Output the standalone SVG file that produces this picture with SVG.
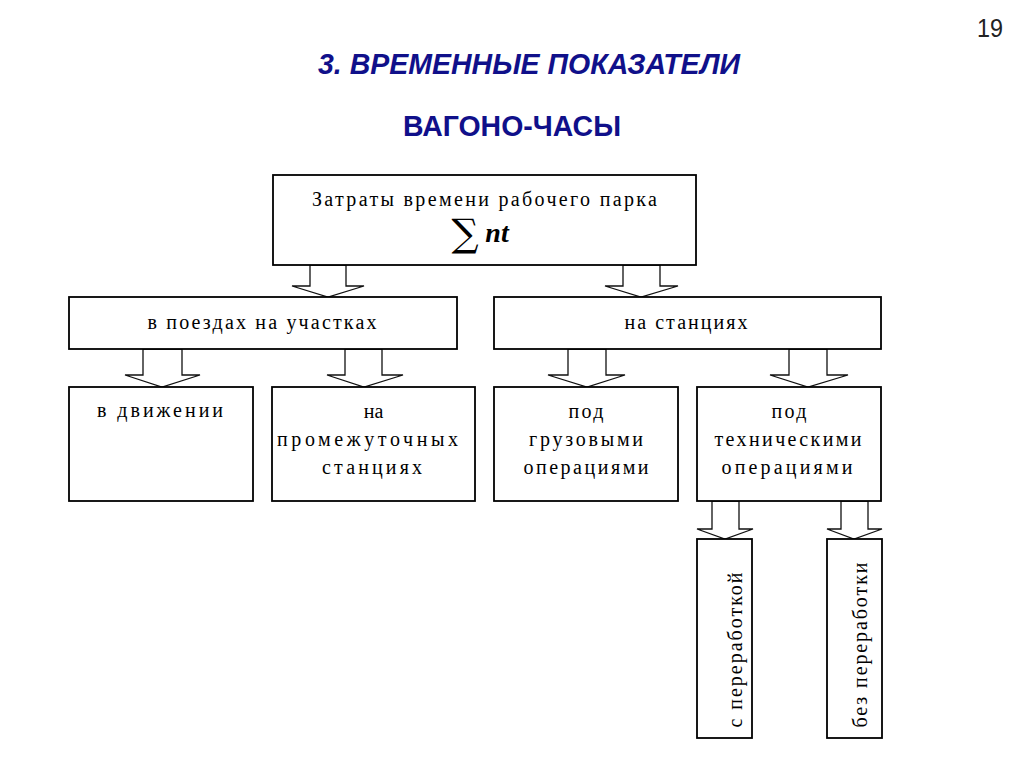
<svg xmlns="http://www.w3.org/2000/svg" width="1024" height="767" viewBox="0 0 1024 767">
<style>
.box{fill:#fff;stroke:#000;stroke-width:1.8}
.arr{fill:#fff;stroke:#111;stroke-width:1.3;stroke-linejoin:miter}
.t{font-family:"Liberation Serif","Times New Roman",serif;font-size:20px;fill:#000;text-anchor:middle}
.title{font-family:"Liberation Sans",Arial,sans-serif;font-weight:bold;fill:#10108a;text-anchor:middle}
</style>
<rect width="1024" height="767" fill="#fff"/>
<text x="990" y="37" font-family="Liberation Sans Narrow,Liberation Sans,Arial,sans-serif" font-size="25" fill="#222" text-anchor="middle" textLength="26" lengthAdjust="spacingAndGlyphs">19</text>
<text class="title" x="529" y="74" font-size="30" font-style="italic" textLength="422" lengthAdjust="spacingAndGlyphs">3. ВРЕМЕННЫЕ ПОКАЗАТЕЛИ</text>
<text class="title" x="512" y="136" font-size="29" textLength="218" lengthAdjust="spacingAndGlyphs">ВАГОНО-ЧАСЫ</text>

<g id="connectors">
<polygon class="arr" points="310,265 346,265 346,286 364,286 328,297 292,286 310,286"/>
<polygon class="arr" points="623,265 660,265 660,286 678,286 641,297 605,286 623,286"/>
<polygon class="arr" points="143,349 182,349 182,375 200,375 162,387 125,375 143,375"/>
<polygon class="arr" points="345,349 382,349 382,375 403,375 364,387 327,375 345,375"/>
<polygon class="arr" points="568,349 606,349 606,375 625,375 587,387 548,375 568,375"/>
<polygon class="arr" points="789,349 827,349 827,375 848,375 808,387 770,375 789,375"/>
<polygon class="arr" points="712,501 739,501 739,529 753,529 725,539 697,529 712,529"/>
<polygon class="arr" points="841,501 868,501 868,529 882,529 854,539 827,529 841,529"/>
</g>

<g id="root">
<rect class="box" x="273" y="175" width="423" height="90"/>
<text class="t" x="484.5" y="206" font-size="21" textLength="345" lengthAdjust="spacing">Затраты времени рабочего парка</text>
<text x="465" y="246" font-family="DejaVu Serif,Liberation Serif,serif" font-size="38" text-anchor="middle">∑</text>
<text x="497" y="242" font-family="Liberation Serif,Times New Roman,serif" font-size="28" font-weight="bold" font-style="italic" text-anchor="middle">nt</text>
</g>

<g id="trains">
<rect class="box" x="69" y="297" width="388" height="52"/>
<text class="t" x="262" y="329" textLength="229" lengthAdjust="spacing">в поездах на участках</text>
</g>

<g id="stations">
<rect class="box" x="494" y="297" width="387" height="52"/>
<text class="t" x="686" y="329" textLength="123" lengthAdjust="spacing">на станциях</text>
</g>

<g id="moving">
<rect class="box" x="69" y="387" width="184" height="114"/>
<text class="t" x="160" y="417" textLength="126" lengthAdjust="spacing">в движении</text>
</g>

<g id="intermediate">
<rect class="box" x="272" y="387" width="203" height="114"/>
<text class="t" x="373.5" y="418">на</text>
<text class="t" x="367.5" y="446" textLength="181" lengthAdjust="spacing">промежуточных</text>
<text class="t" x="372" y="474" textLength="100" lengthAdjust="spacing">станциях</text>
</g>

<g id="cargo">
<rect class="box" x="494" y="387" width="184" height="114"/>
<text class="t" x="586" y="418" textLength="35" lengthAdjust="spacing">под</text>
<text class="t" x="586" y="446" textLength="114" lengthAdjust="spacing">грузовыми</text>
<text class="t" x="586" y="474" textLength="125" lengthAdjust="spacing">операциями</text>
</g>

<g id="technical">
<rect class="box" x="697" y="387" width="184" height="114"/>
<text class="t" x="789" y="418" textLength="35" lengthAdjust="spacing">под</text>
<text class="t" x="788" y="446" textLength="147" lengthAdjust="spacing">техническими</text>
<text class="t" x="787" y="474" textLength="131" lengthAdjust="spacing">операциями</text>
</g>

<g id="with-processing">
<rect class="box" x="697" y="539" width="55" height="199"/>
<text class="t" transform="translate(742,650) rotate(-90)" font-size="22" textLength="155" lengthAdjust="spacing">с переработкой</text>
</g>

<g id="without-processing">
<rect class="box" x="827" y="539" width="55" height="199"/>
<text class="t" transform="translate(867,645) rotate(-90)" font-size="22" textLength="165" lengthAdjust="spacing">без переработки</text>
</g>
</svg>
